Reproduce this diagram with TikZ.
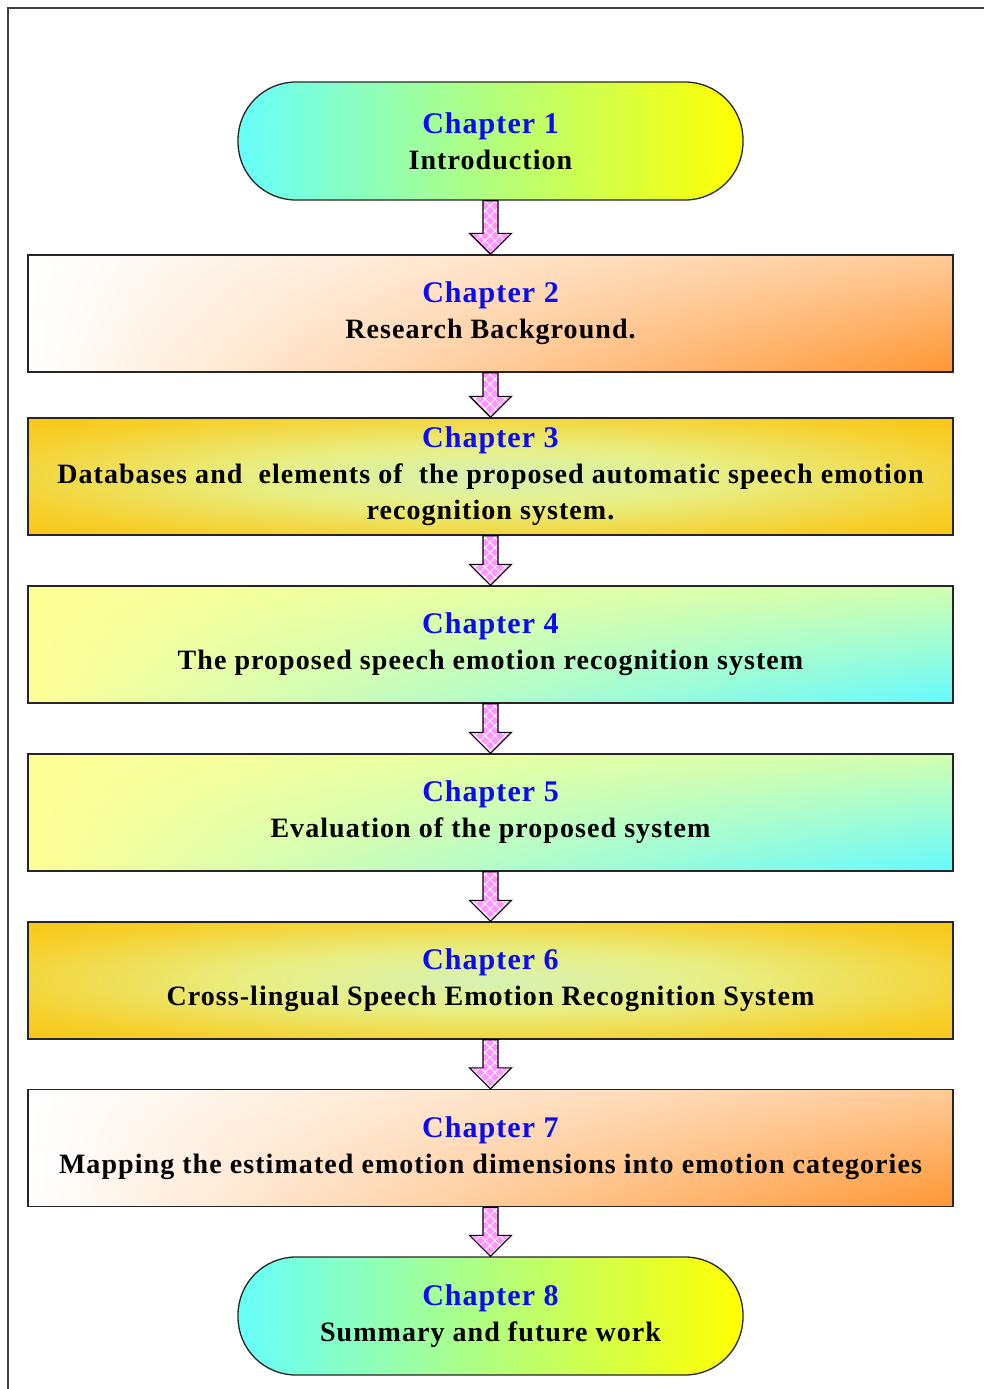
\documentclass[tikz,border=0pt]{standalone}
\usepackage{fontspec}
\setmainfont{Liberation Serif}
\newfontfamily\chapfont{Liberation Serif}[LetterSpace=3.5]
\newfontfamily\descfont{Liberation Serif}[LetterSpace=3.8]
\usetikzlibrary{calc,patterns.meta,shadings}

\definecolor{cyanL}{RGB}{102,255,250}
\definecolor{yel}{RGB}{255,255,0}
\definecolor{orng}{RGB}{255,150,50}
\definecolor{gold}{RGB}{252,190,0}
\definecolor{glow}{RGB}{215,242,180}
\definecolor{glowmid}{RGB}{232,238,130}
\definecolor{glowout}{RGB}{246,208,45}
\definecolor{paleY}{RGB}{255,255,150}
\definecolor{cyanR}{RGB}{100,250,255}
\definecolor{midG}{RGB}{210,255,175}
\definecolor{pinkc}{RGB}{255,150,255}
\definecolor{chapblue}{RGB}{10,10,245}

% bright centre fading to gold towards the box edges
\pgfdeclareradialshading{goldglow}{\pgfpoint{0bp}{0bp}}{%
  color(0bp)=(glow); color(13bp)=(glowmid); color(28bp)=(glowout);
  color(42bp)=(gold); color(71bp)=(gold)}

\newcommand\chap[1]{{\chapfont\color{chapblue}\fontsize{30}{36}\selectfont #1}}
\newcommand\desc[1]{{\descfont #1}}

% hatched block arrow from the bottom of one box to the top of the next
\newcommand\blockarrow[2]{%
  \draw[blockarrowstyle]
    ($(#1.south)+(-7.5,0)$) -- ($(#2.north)+(-7.5,-21)$) -- ($(#2.north)+(-21,-21)$)
    -- (#2.north) -- ($(#2.north)+(21,-21)$) -- ($(#2.north)+(7.5,-21)$)
    -- ($(#1.south)+(7.5,0)$) -- cycle;}

\begin{document}
\begin{tikzpicture}[x=1pt,y=-1pt,
  every node/.style={font=\fontsize{28}{36}\selectfont\bfseries, align=center, inner sep=0pt},
  box/.style={draw=black!85, line width=1.3pt, minimum width=925pt, minimum height=117pt},
  stadium/.style={draw=black!85, line width=1.3pt, minimum width=505pt, minimum height=118pt,
    rounded corners=58pt, left color=cyanL, right color=yel},
  peach/.style={box, upper left=white, lower left=white, upper right=orng!50!white, lower right=orng},
  glowbox/.style={box, shade, shading=goldglow},
  freshbox/.style={box, upper left=paleY, lower left=paleY, upper right=midG, lower right=cyanR},
  blockarrowstyle/.style={draw=black, line width=1.2pt, line join=miter,
    preaction={fill=pinkc},
    preaction={pattern={Lines[angle=45,distance=7pt,line width=0.8pt]}, pattern color=white},
    preaction={pattern={Lines[angle=-45,distance=7pt,line width=0.8pt]}, pattern color=white}},
  framestyle/.style={draw=black!75, line width=2pt}]

\useasboundingbox (0,0) rectangle (984,1389);

% page frame (top and left edges)
\draw[framestyle] (8,1389) -- (8,8) -- (984,8);

\node[stadium]  (b1) at (490.5,141)    {\chap{Chapter 1}\\ \desc{Introduction}};
\node[peach]    (b2) at (490.5,313.5)  {\chap{Chapter 2}\\ \desc{Research Background.}};
\node[glowbox]  (b3) at (490.5,476.5)  {\chap{Chapter 3}\\ \desc{Databases and\ \ elements of\ \ the proposed automatic speech emotion}\\ \desc{recognition system.}};
\node[freshbox] (b4) at (490.5,644.5)  {\chap{Chapter 4}\\ \desc{The proposed speech emotion recognition system}};
\node[freshbox] (b5) at (490.5,812.5)  {\chap{Chapter 5}\\ \desc{Evaluation of the proposed system}};
\node[glowbox]  (b6) at (490.5,980.5)  {\chap{Chapter 6}\\ \desc{Cross-lingual Speech Emotion Recognition System}};
\node[peach]    (b7) at (490.5,1148)   {\chap{Chapter 7}\\ \desc{Mapping the estimated emotion dimensions into emotion categories}};
\node[stadium]  (b8) at (490.5,1316)   {\chap{Chapter 8}\\ \desc{Summary and future work}};

\blockarrow{b1}{b2}
\blockarrow{b2}{b3}
\blockarrow{b3}{b4}
\blockarrow{b4}{b5}
\blockarrow{b5}{b6}
\blockarrow{b6}{b7}
\blockarrow{b7}{b8}
\end{tikzpicture}
\end{document}
